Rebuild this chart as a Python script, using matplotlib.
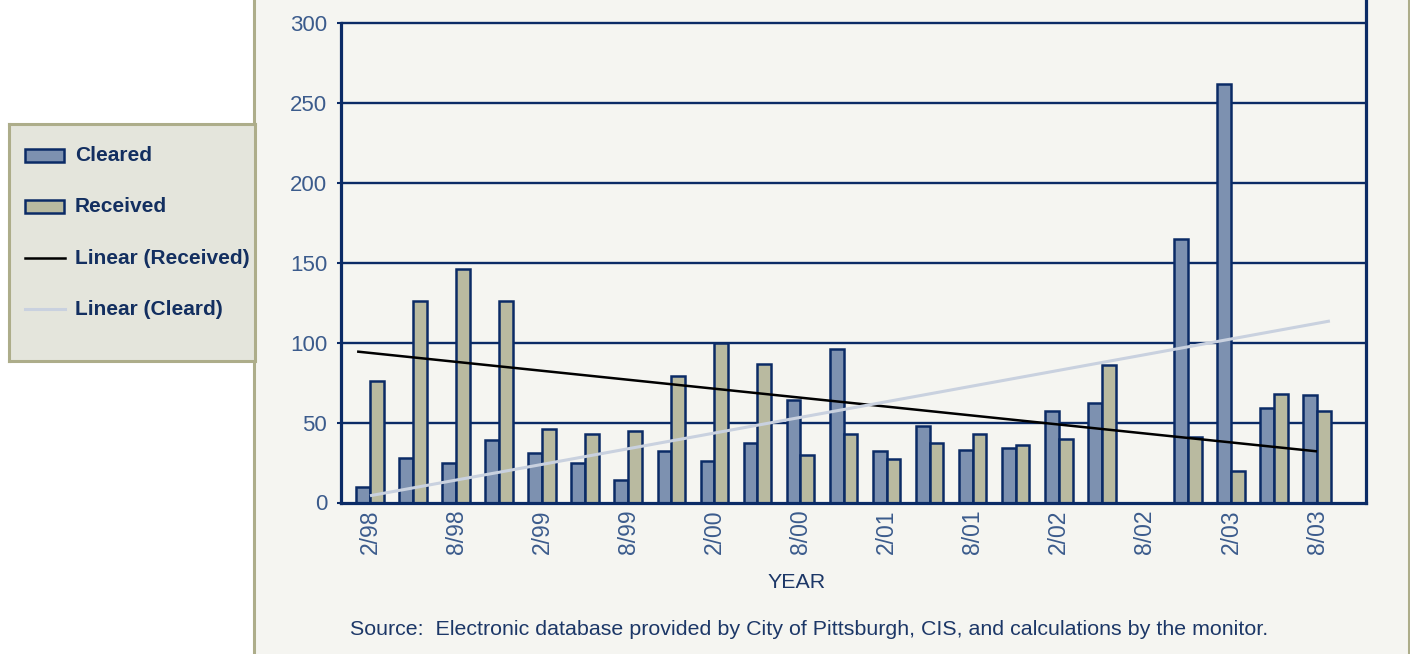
import numpy as np
import matplotlib
matplotlib.use("Agg")
import matplotlib.pyplot as plt
from matplotlib.patches import Rectangle
from matplotlib.lines import Line2D

# quarterly periods, 2/98 .. 8/03 (8/02 has no data)
periods = ["2/98", "5/98", "8/98", "11/98", "2/99", "5/99", "8/99", "11/99",
           "2/00", "5/00", "8/00", "11/00", "2/01", "5/01", "8/01", "11/01",
           "2/02", "5/02", "8/02", "11/02", "2/03", "5/03", "8/03"]
cleared = [10, 28, 25, 39, 31, 25, 14, 32, 26, 37, 64, 96,
           32, 48, 33, 34, 57, 62, np.nan, 165, 262, 59, 67]
received = [76, 126, 146, 126, 46, 43, 45, 79, 100, 87, 30, 43,
            27, 37, 43, 36, 40, 86, np.nan, 41, 20, 68, 57]
y_ticks = [0, 50, 100, 150, 200, 250, 300]

W, H = 1410, 654
NAVY = "#0b2b66"
TICK_C = "#3b5b8c"
TEXT_C = "#1c3767"
OLIVE = "#adad8a"
PANEL = "#f5f5f1"
C_CLR = "#7d91b0"
C_REC = "#b9baa0"
C_LIN_C = "#c9d1df"

plt.rcParams["font.family"] = ["Liberation Sans", "DejaVu Sans"]

fig = plt.figure(figsize=(W / 100, H / 100), dpi=100, facecolor="white")

# chart panel background with olive side borders
fig.patches.append(Rectangle((254 / W, 0), (1409 - 254) / W, 1, transform=fig.transFigure,
                             facecolor=PANEL, edgecolor="none", zorder=-5))
for xp in (254, 1408.5):
    fig.lines.append(Line2D([xp / W, xp / W], [0, 1], transform=fig.transFigure,
                            color=OLIVE, lw=2.2, zorder=-4))

# main axes: plot area from x=341..1365, value axis 0 at y=502.5, 300 at y=23.3
ppu = (502.5 - 23.3) / 300
ax = fig.add_axes([341 / W, 1 - 502.5 / H, 1024.5 / W, 502.5 / H], zorder=1)
ax.set_facecolor(PANEL)
ax.set_ylim(0, 502.5 / ppu)
spacing = 43.05
ax.set_xlim(-(370 - 341) / spacing, 22 + (1365.5 - 1317) / spacing)

x = np.arange(len(periods))
cl = np.array(cleared, dtype=float)
rc = np.array(received, dtype=float)
ok = np.isfinite(cl) & np.isfinite(rc)
bw = 0.32

for yv in y_ticks[1:]:
    ax.axhline(yv, color=NAVY, lw=1.7, zorder=1)

ax.bar(x[ok] - bw / 2, cl[ok], width=bw, color=C_CLR, edgecolor=NAVY, linewidth=1.8, zorder=2)
ax.bar(x[ok] + bw / 2, rc[ok], width=bw, color=C_REC, edgecolor=NAVY, linewidth=1.8, zorder=2)

# linear trendlines
pr = np.polyfit(x[ok], rc[ok], 1)
pc = np.polyfit(x[ok], cl[ok], 1)
xr = np.array([-0.3, 22])
xc = np.array([0, 22.3])
ax.plot(xr, np.polyval(pr, xr), color="black", lw=1.8, zorder=3, solid_capstyle="butt")
ax.plot(xc, np.polyval(pc, xc), color=C_LIN_C, lw=2.2, zorder=3, solid_capstyle="butt")

ax.spines["top"].set_visible(False)
for s in ["left", "right", "bottom"]:
    ax.spines[s].set_color(NAVY)
    ax.spines[s].set_linewidth(2.3)
    ax.spines[s].set_zorder(4)
ax.spines["left"].set_bounds(0, 300)

ax.set_yticks(y_ticks)
ax.set_yticklabels([str(v) for v in y_ticks])
ax.tick_params(axis="y", direction="out", length=3, width=1.5, color=NAVY,
               labelsize=16, labelcolor=TICK_C, pad=7)
ax.set_xticks(x[::2])
ax.set_xticklabels(periods[::2], rotation=90)
ax.tick_params(axis="x", length=0, labelsize=16.5, labelcolor=TICK_C, pad=5)

fig.text(797 / W, 1 - 582 / H, "YEAR", ha="center", va="center", fontsize=15.4, color=TEXT_C)
fig.text(350.5 / W, 1 - 629.5 / H,
         "Source:  Electronic database provided by City of Pittsburgh, CIS, and calculations by the monitor.",
         ha="left", va="center", fontsize=15.4, color=TEXT_C)

# legend box drawn in pixel coordinates
lax = fig.add_axes([9 / W, 1 - 361 / H, 246 / W, 237 / H], zorder=5)
lax.set_xlim(0, 246)
lax.set_ylim(237, 0)
lax.set_facecolor("#e4e5dc")
lax.set_xticks([])
lax.set_yticks([])
for s in lax.spines.values():
    s.set_color(OLIVE)
    s.set_linewidth(2.2)

entries = [("Cleared", "patch", C_CLR), ("Received", "patch", C_REC),
           ("Linear (Received)", "line", "black"), ("Linear (Cleard)", "line", C_LIN_C)]
for i, (lab, kind, col) in enumerate(entries):
    yc = 31.7 + i * 51.2
    if kind == "patch":
        lax.add_patch(Rectangle((15.5, yc - 6.5), 39.5, 13, facecolor=col, edgecolor=NAVY, lw=1.8))
    else:
        lax.plot([16, 56], [yc, yc], color=col, lw=1.8 if col == "black" else 2.2)
    lax.text(66, yc, lab, ha="left", va="center", fontsize=15, fontweight="bold", color="#132f60")

fig.savefig("out.png", dpi=100, facecolor="white")
